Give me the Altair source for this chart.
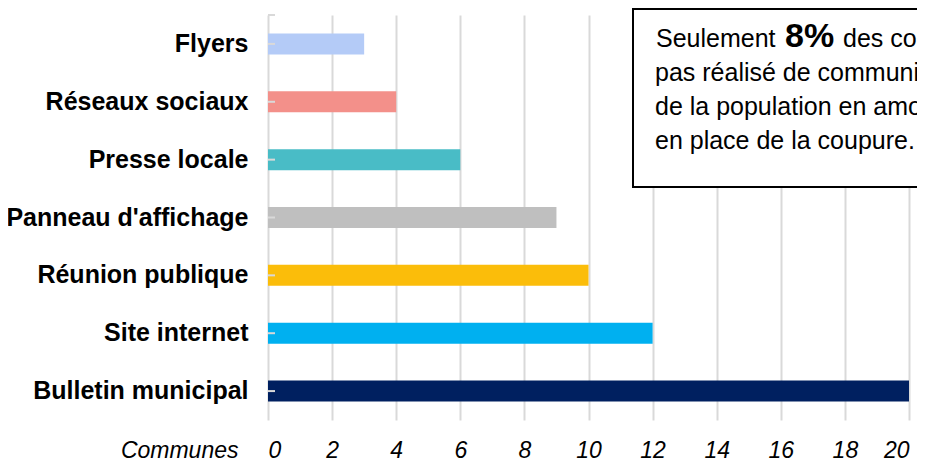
import altair as alt
import pandas as pd

categories = ["Flyers", "Réseaux sociaux", "Presse locale", "Panneau d'affichage",
              "Réunion publique", "Site internet", "Bulletin municipal"]
values = [3, 4, 6, 9, 10, 12, 20]
colors = ["#b4cbf7", "#f3908a", "#49bcc6", "#bfbfbf", "#fbbd0a", "#00b0f0", "#002060"]
x_ticks = [0, 2, 4, 6, 8, 10, 12, 14, 16, 18, 20]
x_title = "Communes"
note_first = ["Seulement", "8%", "des communes n'ont"]
note_lines = [
    "pas réalisé de communication auprès",
    "de la population en amont de la mise",
    "en place de la coupure.",
]

FONT = "Liberation Sans"

df = pd.DataFrame({"cat": categories, "val": values})

yenc = alt.Y("cat:N", sort=categories,
             scale=alt.Scale(paddingInner=0, paddingOuter=0),
             axis=alt.Axis(title=None, labelFont=FONT, labelFontSize=25,
                           labelFontWeight="bold", labelColor="black",
                           labelPadding=20, ticks=False, domain=False,
                           grid=False, labelLimit=0))

bars = alt.Chart(df).mark_bar(size=21).encode(
    x=alt.X("val:Q", scale=alt.Scale(domain=[0, 20], nice=False),
            axis=alt.Axis(values=x_ticks, title=x_title, grid=True,
                          gridColor="#d9d9d9", gridWidth=2, domain=False,
                          ticks=False, tickSize=0,
                          labelFont=FONT, labelFontSize=23, labelFontStyle="italic",
                          labelColor="black", labelPadding=19,
                          titleFont=FONT, titleFontSize=23, titleFontStyle="italic",
                          titleFontWeight="normal", titleColor="black",
                          titleX=-30, titleY=19, titleAlign="right",
                          titleBaseline="top", titleAngle=0)),
    y=yenc,
    color=alt.Color("cat:N", scale=alt.Scale(domain=categories, range=colors), legend=None),
)

ticks = alt.Chart(df).mark_rule(color="#d9d9d9", strokeWidth=2).encode(
    y=alt.Y("cat:N", sort=categories),
    x=alt.value(0), x2=alt.value(7),
)

one = pd.DataFrame({"k": [0]})
top_tick = alt.Chart(one).mark_rule(color="#d9d9d9", strokeWidth=2).encode(
    x=alt.value(0), x2=alt.value(7), y=alt.value(0)
)

box = alt.Chart(one).mark_rect(fill="white", stroke="black", strokeWidth=2).encode(
    x=alt.value(365), x2=alt.value(800), y=alt.value(-6), y2=alt.value(172)
)

def txt(s, x, y, size=25, weight="normal"):
    return alt.Chart(one).mark_text(text=s, font=FONT, fontSize=size, fontWeight=weight,
                                    align="left", baseline="alphabetic",
                                    color="black").encode(x=alt.value(x), y=alt.value(y))

t1 = txt(note_first[0], 388, 32)
t2 = txt(note_first[1], 517, 32, size=34, weight="bold")
t3 = txt(note_first[2], 575, 32)
rest = [txt(s, 387, 32 + 34 * (i + 1)) for i, s in enumerate(note_lines)]

chart = alt.layer(bars, ticks, top_tick, box, t1, t2, t3, *rest).properties(
    width=641, height=405,
    autosize=alt.AutoSizeParams(type="none"),
    padding={"left": 260, "top": 7, "right": 8, "bottom": 41},
).configure_view(stroke=None)

chart.save("out.html", embed_options={"renderer": "svg", "actions": False})
